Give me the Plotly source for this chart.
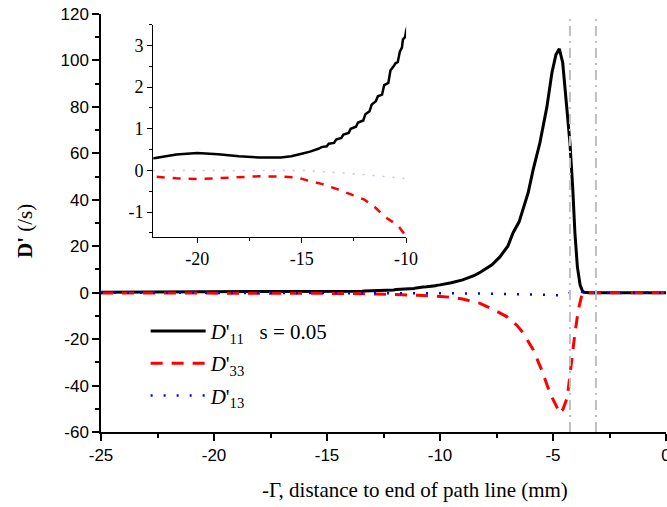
import plotly.graph_objects as go

# ---------------- data ----------------
d11_x = [-25, -24, -23, -22, -21, -20, -19, -18, -17, -16, -15.5, -15, -14.6, -14.2, -14.05,
         -13.8, -13.7, -13.45, -13.35, -13.1, -13.0, -12.75, -12.65, -12.4, -12.3, -12.05,
         -11.95, -11.75, -11.65, -11.45, -11.35, -11.15, -11.05, -10.85, -10.75, -10.6, -10.5,
         -10.4, -10.3, -10.2, -10.15, -10.05, -10.0, -9.5, -9.0, -8.5, -8.2, -7.7, -7.35, -7.0,
         -6.77, -6.5, -6.33, -6.1, -5.88, -5.58, -5.27, -5.05, -4.87, -4.72, -4.57, -4.42,
         -4.34, -4.25, -4.13, -4.03, -3.92, -3.8, -3.7, -3.63, -3.4, -3.0, -2.0, -1.0, 0.0]
d11_y = [0.15, 0.18, 0.22, 0.30, 0.38, 0.42, 0.39, 0.34, 0.31, 0.31, 0.34, 0.40, 0.45, 0.52, 0.56,
         0.58, 0.64, 0.66, 0.74, 0.78, 0.86, 0.90, 1.00, 1.05, 1.15, 1.20,
         1.35, 1.42, 1.58, 1.66, 1.78, 1.82, 2.05, 2.10, 2.40, 2.50, 2.58,
         2.60, 2.85, 2.95, 3.15, 3.20, 3.35, 4.3, 5.5, 7.3, 8.9, 12.0, 15.4, 20.0,
         25.7, 30.5, 35.6, 43.0, 52.9, 64.5, 80.0, 94.6, 102.5, 105.0, 99.0, 83.0,
         71.5, 64.5, 45.6, 25.7, 11.0, 3.3, 0.8, 0.2, 0.0, 0.0, 0.0, 0.0, 0.0]

d33_x = [-25, -24, -23, -22, -21, -20, -19, -18, -17, -16, -15.2, -14.6, -14.0, -13.3, -12.6,
         -12.0, -11.5, -11.0, -10.4, -10.0, -9.5, -9.0, -8.23, -7.6, -7.05, -6.6, -6.31, -5.87,
         -5.5, -5.13, -4.85, -4.69, -4.55, -4.4, -4.32, -4.18, -4.03, -3.88, -3.75, -3.66,
         -3.4, -3.0, -2.0, -1.0, 0.0]
d33_y = [-0.10, -0.10, -0.12, -0.15, -0.19, -0.21, -0.19, -0.16, -0.14, -0.15, -0.17, -0.26,
         -0.33, -0.45, -0.58, -0.70, -0.88, -1.12, -1.32, -1.58, -2.0, -2.7, -4.6, -7.5, -10.3,
         -14.0, -17.5, -24.7, -33.3, -43.4, -49.0, -52.0, -50.0, -46.0, -41.2, -29.0, -17.5,
         -7.5, -2.0, 0.0, 0.0, 0.0, 0.0, 0.0, 0.0]

d13_x = [-25, -22, -18, -15, -14, -13, -12, -11, -10, -9, -8, -7, -6, -5, -4.6, -4.4, -4.2,
         -4.0, -3.8, -3.6, -3.0, -2.0, -1.0, 0.0]
d13_y = [0.0, 0.0, 0.0, 0.0, -0.03, -0.06, -0.10, -0.15, -0.20, -0.3, -0.4, -0.5, -0.7, -1.0,
         -1.2, -0.5, 0.3, 0.8, 0.5, 0.0, 0.0, 0.0, 0.0, 0.0]

marker_lines_x = [-4.25, -3.1]

main_x_range = [-25, 0]
main_y_range = [-60, 120]
main_x_ticks = [-25, -20, -15, -10, -5, 0]
main_y_ticks = [-60, -40, -20, 0, 20, 40, 60, 80, 100, 120]
inset_x_range = [-22.1, -10]
inset_y_range = [-1.6, 3.5]
inset_x_ticks = [-20, -15, -10]
inset_y_ticks = [-1, 0, 1, 2, 3]

# ---------------- figure ----------------
SANS = "Liberation Sans, Arial, sans-serif"
SERIF = "Liberation Serif, Times New Roman, serif"


def lbl(v):
    return ("-" if v < 0 else "") + f"{abs(v):g}"


fig = go.Figure()

styles = [
    (d11_x, d11_y, "<i>D</i>'<sub>11</sub>&nbsp;&nbsp; s = 0.05", dict(color="black", width=3, dash="solid")),
    (d33_x, d33_y, "<i>D</i>'<sub>33</sub>", dict(color="#ff0000", width=3, dash="12px,9px")),
    (d13_x, d13_y, "<i>D</i>'<sub>13</sub>", dict(color="#0000ff", width=2.5, dash="2px,11px")),
]
for i, (xs, ys, nm, ln) in enumerate(styles):
    fig.add_trace(go.Scatter(x=xs, y=ys, mode="lines", name=nm, line=ln, legendgroup=f"g{i}",
                             xaxis="x", yaxis="y", showlegend=True))

# inset traces
inset_styles = [
    (d11_x, d11_y, dict(color="black", width=2.5, dash="solid")),
    (d33_x, d33_y, dict(color="#ff0000", width=2.5, dash="8px,8px")),
    (d13_x, d13_y, dict(color="#c0c0ff", width=1.5, dash="2px,8px")),
]
for xs, ys, ln in inset_styles:
    fig.add_trace(go.Scatter(x=xs, y=ys, mode="lines", line=ln,
                             xaxis="x2", yaxis="y2", showlegend=False, hoverinfo="skip"))

# vertical dash-dot marker lines
for xv in marker_lines_x:
    fig.add_shape(type="line", xref="x", yref="paper", x0=xv, x1=xv, y0=0, y1=1,
                  line=dict(color="#c0c0c0", width=2, dash="10px,5px,2px,5px"), layer="above")

tickfont_main = dict(family=SANS, size=17, color="black")
tickfont_inset = dict(family=SERIF, size=18, color="black")

IN_X = [0.0926, 0.540]
IN_Y = [0.4665, 0.9744]

common = dict(showgrid=False, zeroline=False, automargin=False)

fig.update_layout(
    width=667, height=507,
    margin=dict(l=101, r=1, t=14, b=75),
    paper_bgcolor="white", plot_bgcolor="white",
    showlegend=True,
    legend=dict(x=0.079, y=0.29, xanchor="left", yanchor="top", traceorder="grouped",
                bgcolor="rgba(0,0,0,0)", font=dict(family=SERIF, size=21, color="black"),
                tracegroupgap=2, itemwidth=55),
    xaxis=dict(range=main_x_range, domain=[0, 1], anchor="y",
               tickvals=main_x_ticks, ticktext=[lbl(v) for v in main_x_ticks],
               ticklabeloverflow="allow",
               ticks="outside", ticklen=7, tickwidth=1.5, tickcolor="black",
               showline=True, linecolor="black", linewidth=1.5,
               tickfont=tickfont_main,
               minor=dict(dtick=2.5, tick0=0, ticks="outside", ticklen=4, tickcolor="black", tickwidth=1.5),
               **common),
    yaxis=dict(range=main_y_range, domain=[0, 1], anchor="x",
               tickvals=main_y_ticks, ticktext=[lbl(v) for v in main_y_ticks],
               ticklabeloverflow="allow",
               ticks="outside", ticklen=7, tickwidth=1.5, tickcolor="black",
               showline=True, linecolor="black", linewidth=1.5,
               tickfont=tickfont_main,
               minor=dict(dtick=10, tick0=0, ticks="outside", ticklen=4, tickcolor="black", tickwidth=1.5),
               **common),
    xaxis3=dict(range=main_x_range, overlaying="x", side="top", anchor="y3", dtick=5, tick0=0,
                ticks="inside", ticklen=3, tickcolor="#888", showticklabels=False,
                showline=True, linecolor="black", linewidth=1.5,
                minor=dict(dtick=2.5, tick0=0, ticks="inside", ticklen=2, tickcolor="#888"),
                **common),
    yaxis3=dict(range=main_y_range, overlaying="y", side="right", anchor="x3", dtick=20, tick0=0,
                ticks="inside", ticklen=6, tickcolor="black", showticklabels=False,
                showline=True, linecolor="black", linewidth=1.5,
                minor=dict(dtick=10, tick0=0, ticks="inside", ticklen=4, tickcolor="black"),
                **common),
    # inset
    xaxis2=dict(range=inset_x_range, domain=IN_X, anchor="y2",
                tickvals=inset_x_ticks, ticktext=[lbl(v) for v in inset_x_ticks],
                ticks="outside", ticklen=5, tickcolor="black", tickwidth=1,
                showline=True, linecolor="black", linewidth=1.2,
                tickfont=tickfont_inset,
                minor=dict(dtick=2.5, tick0=0, ticks="outside", ticklen=3, tickcolor="black"),
                **common),
    yaxis2=dict(range=inset_y_range, domain=IN_Y, anchor="x2",
                tickvals=inset_y_ticks, ticktext=[lbl(v) for v in inset_y_ticks],
                ticks="outside", ticklen=5, tickcolor="black", tickwidth=1,
                showline=True, linecolor="black", linewidth=1.2,
                tickfont=tickfont_inset,
                minor=dict(dtick=0.5, tick0=0, ticks="outside", ticklen=3, tickcolor="black"),
                **common),
    xaxis4=dict(range=inset_x_range, domain=IN_X, overlaying="x2", side="top", anchor="y4",
                dtick=2.5, tick0=0, ticks="inside", ticklen=2, tickcolor="#999", showticklabels=False,
                showline=True, linecolor="black", linewidth=1.2, **common),
    yaxis4=dict(range=inset_y_range, domain=IN_Y, overlaying="y2", side="right", anchor="x4",
                dtick=0.5, tick0=0, ticks="inside", ticklen=3, tickcolor="#555", showticklabels=False,
                showline=True, linecolor="black", linewidth=1.2, **common),
)

# axis titles as annotations
fig.add_annotation(text="-Γ, distance to end of path line (mm)", xref="paper", yref="paper",
                   x=(415 - 101) / 565, y=-(490 - 432) / 418, xanchor="center", yanchor="middle",
                   showarrow=False, font=dict(family=SERIF, size=21, color="black"))
fig.add_annotation(text="<b>D'</b> (/s)", xref="paper", yref="paper",
                   x=(25 - 101) / 565, y=(432 - 231) / 418, xanchor="center", yanchor="middle",
                   textangle=-90, showarrow=False, font=dict(family=SERIF, size=21, color="black"))

fig.write_html("out.html")
